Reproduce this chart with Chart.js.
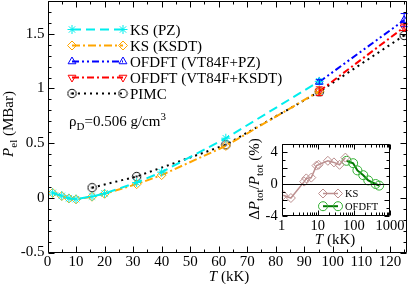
<!DOCTYPE html>
<html>
<head>
<meta charset="utf-8">
<script src="https://cdn.jsdelivr.net/npm/chart.js@4.4.1/dist/chart.umd.min.js"></script>
<style>
  html, body { margin: 0; padding: 0; background: #fff; }
  #wrap { position: relative; width: 409px; height: 284px; }
  #main { position: absolute; left: 0; top: 0; }
  #inset { position: absolute; left: 240px; top: 138px; }
</style>
</head>
<body>
<div id="wrap">
  <canvas id="main" width="409" height="284"></canvas>
  <canvas id="inset" width="169" height="112"></canvas>
</div>
<script>
// dados do grafico principal (T em kK, P em MBar)
var tKS = [1.8, 5, 7.5, 10, 15.6, 20, 31.25, 40, 62.5, 95.25];
var ksPZ = [0.045, 0.018, -0.004, -0.012, 0.012, 0.04, 0.14, 0.235, 0.545, 1.065];
var ksKSDT = [0.045, 0.016, -0.006, -0.014, 0.01, 0.037, 0.125, 0.208, 0.475, 0.975];
var errKSPZ = [0, 0, 0, 0, 0, 0, 0, 0, 0, 0.02];
var tOF = [95.25, 125];
var ofPZ = [1.06, 1.625];
var ofKSDT = [0.975, 1.56];
var errOfPZ = [0.02, 0.06];
var errOfKSDT = [0.04, 0.03];
var tPIMC = [15.625, 31.25, 62.5, 95.25, 125];
var pimc = [0.093, 0.195, 0.485, 0.97, 1.485];

// dados do inset (diferenca relativa em %)
var tDifKS = [1.1, 1.8, 4.2, 4.8, 6.6, 9.2, 10.5, 19, 28, 40, 58];
var difKS = [-1.4, -1.75, 0.3, 0.7, 0.8, 2.3, 2.4, 2.9, 2.7, 2.4, 3.3];
var tDifOF = [62.5, 95.25, 125, 181.8, 250, 400, 500];
var difOF = [2.9, 2.6, 1.7, 1.1, 0.45, 0, -0.2];

var SERIF = "'Liberation Serif', 'Times New Roman', serif";
Chart.defaults.font.family = SERIF;
Chart.defaults.color = '#000';

function pts(xs, ys) {
  return xs.map(function (x, i) { return { x: x, y: ys[i] }; });
}

function pimcMarker(dot) {
  var c = document.createElement('canvas');
  c.width = 11; c.height = 11;
  var g = c.getContext('2d');
  g.strokeStyle = '#000'; g.lineWidth = 1;
  g.beginPath(); g.arc(5.5, 5.5, 4.2, 0, Math.PI * 2); g.stroke();
  if (dot) { g.fillStyle = '#000'; g.fillRect(4.5, 4.5, 2, 2); }
  return c;
}

function serie(label, data, color, dash, style, extra) {
  var d = {
    label: label, data: data, borderColor: color, borderWidth: 2, borderDash: dash,
    pointStyle: style, pointRadius: 4.5, pointBorderWidth: 1, pointBorderColor: color,
    pointBackgroundColor: 'rgba(0,0,0,0)', fill: false, tension: 0
  };
  return Object.assign(d, extra || {});
}

var mainSets = [
  serie('KS (PZ)', pts(tKS, ksPZ), '#00eeee', [9, 5], 'star', { erros: errKSPZ }),
  serie('KS (KSDT)', pts(tKS, ksKSDT), '#ffa500', [8, 3, 2, 3], 'rectRot'),
  serie('OFDFT (VT84F+PZ)', pts(tOF, ofPZ), '#0000ff', [7, 3, 2, 3, 2, 3], 'triangle', { erros: errOfPZ }),
  serie('OFDFT (VT84F+KSDT)', pts(tOF, ofKSDT), '#ff0000', [7, 3, 2, 3], 'triangle', { pointRotation: 180, erros: errOfKSDT }),
  serie('PIMC', pts(tPIMC, pimc), '#000000', [2, 4], pimcMarker(true))
];

function font(p) {
  return (p.it ? 'italic ' : '') + p.size + 'px ' + SERIF;
}

function drawRich(ctx, parts, x, y, align) {
  var w = 0;
  parts.forEach(function (p) { ctx.font = font(p); p.w = ctx.measureText(p.t).width; w += p.w; });
  var cx = align === 'center' ? x - w / 2 : x;
  parts.forEach(function (p) {
    ctx.font = font(p);
    ctx.fillText(p.t, cx, y + (p.dy || 0));
    cx += p.w;
  });
}

// sem o espaco extra que o Chart.js reserva para os rotulos das pontas
function semPadding(s) {
  s.paddingTop = 0; s.paddingBottom = 0; s.paddingLeft = 0; s.paddingRight = 0;
}

// moldura com ticks para dentro, nos quatro lados
function moldura(xTicks, yTicks, zeroLine) {
  return {
    id: 'moldura',
    afterDatasetsDraw: function (chart) {
      var ctx = chart.ctx, a = chart.chartArea, sx = chart.scales.x, sy = chart.scales.y;
      var L = Math.round(a.left) + 0.5, R = Math.round(a.right) - 0.5;
      var T = Math.round(a.top) + 0.5, B = Math.round(a.bottom) - 0.5;
      ctx.save();
      ctx.strokeStyle = '#000'; ctx.lineWidth = 1; ctx.setLineDash([]);
      ctx.beginPath();
      if (zeroLine) {
        var y0 = Math.round(sy.getPixelForValue(0)) + 0.5;
        ctx.moveTo(L, y0); ctx.lineTo(R, y0);
      }
      xTicks.forEach(function (t) {
        var px = Math.round(sx.getPixelForValue(t[0])) + 0.5;
        ctx.moveTo(px, B); ctx.lineTo(px, B - t[1]);
        ctx.moveTo(px, T); ctx.lineTo(px, T + t[1]);
      });
      yTicks.forEach(function (t) {
        var py = Math.round(sy.getPixelForValue(t[0])) + 0.5;
        ctx.moveTo(L, py); ctx.lineTo(L + t[1], py);
        ctx.moveTo(R, py); ctx.lineTo(R - t[1], py);
      });
      ctx.rect(L, T, R - L, B - T);
      ctx.stroke();
      ctx.restore();
    }
  };
}

// barras de erro verticais
var barrasErro = {
  id: 'barrasErro',
  afterDatasetsDraw: function (chart) {
    var ctx = chart.ctx, sy = chart.scales.y;
    chart.data.datasets.forEach(function (ds, i) {
      if (!ds.erros) return;
      var meta = chart.getDatasetMeta(i);
      ctx.save();
      ctx.strokeStyle = ds.borderColor; ctx.lineWidth = 1; ctx.setLineDash([]);
      ctx.beginPath();
      meta.data.forEach(function (pt, k) {
        var e = ds.erros[k];
        if (!e) return;
        var y1 = sy.getPixelForValue(ds.data[k].y + e), y2 = sy.getPixelForValue(ds.data[k].y - e);
        ctx.moveTo(pt.x, y1); ctx.lineTo(pt.x, y2);
        ctx.moveTo(pt.x - 3.5, y1); ctx.lineTo(pt.x + 3.5, y1);
        ctx.moveTo(pt.x - 3.5, y2); ctx.lineTo(pt.x + 3.5, y2);
      });
      ctx.stroke();
      ctx.restore();
    });
  }
};

function legendaItem(ctx, ds, x1, x2, y, img2) {
  ctx.save();
  ctx.strokeStyle = ds.borderColor;
  ctx.lineWidth = ds.borderWidth;
  ctx.setLineDash(ds.borderDash || []);
  ctx.beginPath(); ctx.moveTo(x1, y); ctx.lineTo(x2, y); ctx.stroke();
  ctx.setLineDash([]);
  ctx.lineWidth = 1;
  ctx.strokeStyle = ds.pointBorderColor;
  ctx.fillStyle = 'rgba(0,0,0,0)';
  var opt = { pointStyle: ds.pointStyle, radius: ds.pointRadius, rotation: ds.pointRotation || 0, borderWidth: 1 };
  Chart.helpers.drawPoint(ctx, opt, x1, y);
  if (img2) opt.pointStyle = img2;
  Chart.helpers.drawPoint(ctx, opt, x2, y);
  ctx.restore();
}

var textosMain = {
  id: 'textosMain',
  afterDraw: function (chart) {
    var ctx = chart.ctx;
    ctx.save();
    ctx.fillStyle = '#000';
    ctx.textBaseline = 'alphabetic';
    // legenda
    chart.data.datasets.forEach(function (ds, i) {
      var y = 29.5 + 16 * i;
      legendaItem(ctx, ds, 72, 123, y, ds.label === 'PIMC' ? pimcMarker(false) : null);
      ctx.fillStyle = '#000';
      drawRich(ctx, [{ t: ds.label, size: 15 }], 130, y + 5);
    });
    // densidade
    drawRich(ctx, [
      { t: 'ρ', size: 15 }, { t: 'D', size: 11, dy: 4 },
      { t: '=0.506 g/cm', size: 15 }, { t: '3', size: 11, dy: -6 }
    ], 69, 126);
    // titulo eixo x
    drawRich(ctx, [{ t: 'T', size: 15, it: true }, { t: ' (kK)', size: 15 }], 229, 281, 'center');
    // titulo eixo y
    ctx.translate(13, 124);
    ctx.rotate(-Math.PI / 2);
    drawRich(ctx, [
      { t: 'P', size: 15, it: true }, { t: 'el', size: 11, dy: 4 }, { t: ' (MBar)', size: 15 }
    ], 0, 0, 'center');
    ctx.restore();
  }
};

var xTicksMain = [], yTicksMain = [];
for (var v = 0; v <= 125; v += 5) xTicksMain.push([v, v % 10 === 0 ? 6 : 3]);
for (var k = -5; k <= 18; k++) yTicksMain.push([k / 10, k % 5 === 0 ? 6 : 3]);

new Chart(document.getElementById('main'), {
  type: 'line',
  data: { datasets: mainSets },
  options: {
    responsive: false, animation: false, devicePixelRatio: 1,
    layout: { autoPadding: false, padding: { top: 1, right: 2, left: 0, bottom: 0 } },
    plugins: { legend: { display: false }, tooltip: { enabled: false } },
    scales: {
      x: {
        type: 'linear', min: 0, max: 126,
        grid: { display: false, drawTicks: false }, border: { display: false },
        ticks: { stepSize: 10, includeBounds: false, font: { size: 15 }, padding: 1, maxRotation: 0, autoSkip: false },
        afterFit: function (s) { s.height = 31.5; semPadding(s); }
      },
      y: {
        min: -0.5, max: 1.8,
        grid: { display: false, drawTicks: false }, border: { display: false },
        ticks: {
          stepSize: 0.5, includeBounds: false, font: { size: 15 }, padding: 3,
          callback: function (v) { return String(+v.toFixed(1)); }
        },
        afterFit: function (s) { s.width = 47.5; semPadding(s); }
      }
    }
  },
  plugins: [barrasErro, moldura(xTicksMain, yTicksMain, false), textosMain]
});

// ---------- inset ----------
var insetSets = [
  serie('KS', pts(tDifKS, difKS), '#bc8f8f', [], 'rectRot', { borderWidth: 1.5 }),
  serie('OFDFT', pts(tDifOF, difOF), '#007800', [], 'circle', { pointBorderColor: '#33b033' })
];

var textosInset = {
  id: 'textosInset',
  afterDraw: function (chart) {
    var ctx = chart.ctx;
    ctx.save();
    ctx.fillStyle = '#000';
    chart.data.datasets.forEach(function (ds, i) {
      var y = 55.5 + 12.7 * i;
      legendaItem(ctx, ds, 83, 98, y);
      ctx.fillStyle = '#000';
      drawRich(ctx, [{ t: ds.label, size: 10.5 }], 105, y + 3.5);
    });
    drawRich(ctx, [{ t: 'T', size: 15, it: true }, { t: ' (kK)', size: 15 }], 95, 106, 'center');
    ctx.translate(19, 41);
    ctx.rotate(-Math.PI / 2);
    drawRich(ctx, [
      { t: 'Δ', size: 15 }, { t: 'P', size: 15, it: true }, { t: 'tot', size: 11, dy: 4 },
      { t: '/', size: 15 }, { t: 'P', size: 15, it: true }, { t: 'tot', size: 11, dy: 4 },
      { t: ' (%)', size: 15 }
    ], 0, 0, 'center');
    ctx.restore();
  }
};

var xTicksIn = [], yTicksIn = [];
[1, 10, 100].forEach(function (dec) {
  for (var m = 1; m <= 9; m++) xTicksIn.push([dec * m, m === 1 ? 5 : 3]);
});
xTicksIn.push([1000, 5]);
for (var j = -4; j <= 5; j++) yTicksIn.push([j, j % 2 === 0 ? 5 : 3]);

new Chart(document.getElementById('inset'), {
  type: 'line',
  data: { datasets: insetSets },
  options: {
    responsive: false, animation: false, devicePixelRatio: 1,
    layout: { autoPadding: false, padding: { top: 6, right: 19, left: 0, bottom: 0 } },
    plugins: { legend: { display: false }, tooltip: { enabled: false } },
    scales: {
      x: {
        type: 'logarithmic', min: 1, max: 1000,
        grid: { display: false, drawTicks: false }, border: { display: false },
        ticks: {
          font: { size: 14.5 }, padding: 1, maxRotation: 0, autoSkip: false,
          callback: function (v) {
            var r = Math.round(Math.log10(v));
            return Math.abs(v - Math.pow(10, r)) < 1e-6 ? String(Math.pow(10, r)) : '';
          }
        },
        afterFit: function (s) { s.height = 34; semPadding(s); }
      },
      y: {
        min: -4, max: 5,
        grid: { display: false, drawTicks: false }, border: { display: false },
        ticks: { stepSize: 2, includeBounds: false, font: { size: 14.5 }, padding: 4 },
        afterFit: function (s) { s.width = 41.7; semPadding(s); }
      }
    }
  },
  plugins: [moldura(xTicksIn, yTicksIn, true), textosInset]
});
</script>
</body>
</html>
